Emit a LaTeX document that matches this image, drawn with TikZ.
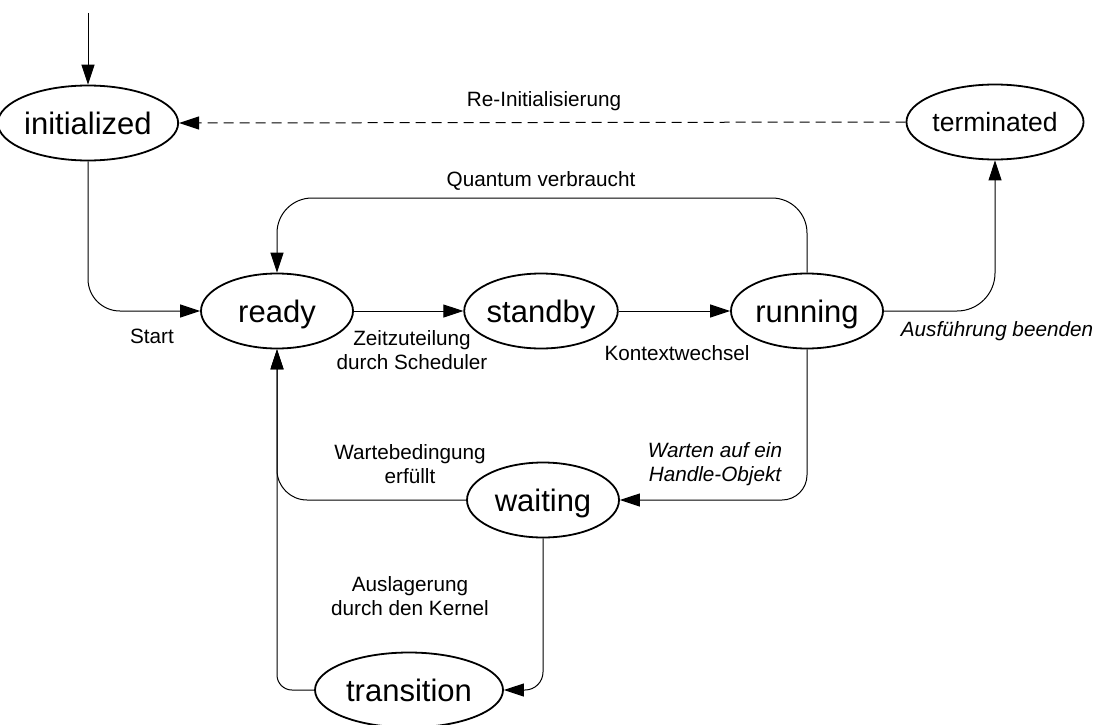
\documentclass[tikz,border=0pt]{standalone}
\usepackage{fontspec}
\setmainfont{Liberation Sans}
\usepackage{tikz}
\usetikzlibrary{shapes}
\usetikzlibrary{arrows.meta}

\begin{document}
\begin{tikzpicture}[x=1pt,y=-1pt,
    state/.style={ellipse,draw,line width=1.8pt,minimum width=152pt,
        minimum height=75pt,inner sep=0pt,font=\fontsize{31}{31}\selectfont,
        text height=22pt,text depth=0pt},
    trans/.style={line width=1pt,-{Triangle[length=20pt,width=13pt]}},
    lbl/.style={font=\fontsize{20.7}{24}\selectfont,align=center}]
    \useasboundingbox (0,0) rectangle (1100,725);
    % States
    \node [state] (initialized) at (88,123) {initialized};
    \node [state,font=\fontsize{26.5}{26.5}\selectfont,text height=18pt]
        (terminated) at (995,122) {terminated};
    \node [state] (ready) at (277,311) {ready};
    \node [state] (standby) at (541,311) {standby};
    \node [state] (running) at (807,311) {running};
    \node [state] (waiting) at (543,500) {waiting};
    \node [state,minimum width=188pt] (transition) at (409,690) {transition};
    \coordinate (entry) at (88,13);
    \coordinate (quantum) at (541,198);
    % Transitions
    \draw [trans] (entry) -- (initialized.north);
    \draw [trans,dash pattern=on 10pt off 6pt]
        (terminated.west) -- (initialized.east);
    \draw [trans,rounded corners=32pt] (initialized.south) |- (ready.west);
    \draw [trans] (ready.east) -- (standby.west);
    \draw [trans] (standby.east) -- (running.west);
    \draw [trans,rounded corners=35pt]
        (running.north) |- (quantum) -| (ready.north);
    \draw [trans,rounded corners=38pt] (running.east) -| (terminated.south);
    \draw [trans,rounded corners=25pt] (running.south) |- (waiting.east);
    \draw [trans,rounded corners=30pt] (waiting.west) -| (ready.south);
    \draw [trans,rounded corners=18pt] (waiting.south) |- (transition.east);
    \draw [trans,rounded corners=15pt] (transition.west) -| (ready.south);
    % Labels
    \node [lbl] (lreinit) at (544,101) {Re-Initialisierung};
    \node [lbl] (lquantum) at (541,181) {Quantum verbraucht};
    \node [lbl] (lstart) at (152,336) {Start};
    \node [lbl] (lzeit) at (412,350) {Zeitzuteilung\\durch Scheduler};
    \node [lbl] (lkontext) at (677,353) {Kontextwechsel};
    \node [lbl,font=\fontsize{20.7}{24}\selectfont\itshape]
        (lende) at (997,331) {Ausführung beenden};
    \node [lbl] (lwarte) at (410,464) {Wartebedingung\\erfüllt};
    \node [lbl,font=\fontsize{20.7}{24}\selectfont\itshape]
        (lhandle) at (715,464) {Warten auf ein\\Handle-Objekt};
    \node [lbl] (lausl) at (410,596) {Auslagerung\\durch den Kernel};
\end{tikzpicture}
\end{document}
